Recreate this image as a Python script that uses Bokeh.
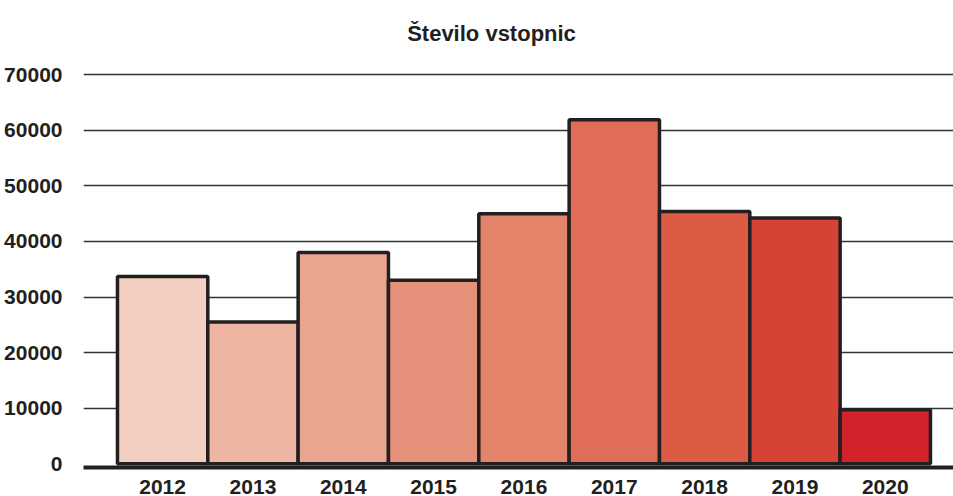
from bokeh.plotting import figure
from bokeh.models import Range1d, FixedTicker, ColumnDataSource, Label
from bokeh.embed import file_html
from bokeh.resources import INLINE

years = [2012, 2013, 2014, 2015, 2016, 2017, 2018, 2019, 2020]
visitors = [33700, 25500, 38000, 33000, 45000, 61900, 45400, 44200, 9700]
colors = ["#F2CFC0", "#EEB6A2", "#EAA58E", "#E5917A", "#E3836A",
          "#E06D57", "#DB5B45", "#D64236", "#D2232A"]
y_ticks = [0, 10000, 20000, 30000, 40000, 50000, 60000, 70000]
title_text = "Število vstopnic"

FONT = "Liberation Sans"
DARK = "#231F20"

# layout (pixels)
W, H = 953, 496
LEFT, RIGHT, TOP, BOTTOM = 83, 0, 2, 29
frame_w = W - LEFT - RIGHT
frame_h = H - TOP - BOTTOM
x_start = years[0] - 0.5 - 0.376
x_end = years[-1] + 0.5 + 0.255
# frame extends over the title area so the title label is not clipped
y_start, y_end = -680, 83000

src = ColumnDataSource(dict(x=years, top=visitors, color=colors))

p = figure(width=W, height=H, output_backend="svg", toolbar_location=None,
           x_range=Range1d(x_start, x_end), y_range=Range1d(y_start, y_end),
           min_border_left=LEFT, min_border_right=RIGHT,
           min_border_top=TOP, min_border_bottom=BOTTOM)
p.title.text = ""
p.outline_line_color = None
p.background_fill_color = "white"
p.border_fill_color = "white"

p.vbar(x="x", top="top", bottom=0, width=1.0, source=src, fill_color="color",
       line_color=DARK, line_width=3.5)

# title position: pixel targets converted to data units
px_per_x = frame_w / (x_end - x_start)
px_per_y = frame_h / (y_end - y_start)
title_x = x_start + (491 - LEFT) / px_per_x
title_y = y_end - (33 - TOP) / px_per_y
p.add_layout(Label(x=title_x, y=title_y, text=title_text, text_align="center",
                   text_baseline="alphabetic", text_font=FONT,
                   text_font_size="22px", text_font_style="bold",
                   text_color=DARK))

p.xgrid.grid_line_color = None
p.ygrid.ticker = FixedTicker(ticks=y_ticks[1:])
p.ygrid.grid_line_color = "#333333"
p.ygrid.grid_line_width = 1.5
p.ygrid.level = "underlay"

p.yaxis.ticker = FixedTicker(ticks=y_ticks)
p.yaxis.axis_line_color = None
p.yaxis.major_tick_line_color = None
p.yaxis.minor_tick_line_color = None
p.yaxis.major_label_standoff = 15
p.yaxis.major_label_text_font = FONT
p.yaxis.major_label_text_font_size = "21px"
p.yaxis.major_label_text_font_style = "bold"
p.yaxis.major_label_text_color = DARK

p.xaxis.ticker = FixedTicker(ticks=years)
p.xaxis.axis_line_color = DARK
p.xaxis.axis_line_width = 4
p.xaxis.major_tick_line_color = None
p.xaxis.minor_tick_line_color = None
p.xaxis.major_label_standoff = 6
p.xaxis.major_label_text_font = FONT
p.xaxis.major_label_text_font_size = "21px"
p.xaxis.major_label_text_font_style = "bold"
p.xaxis.major_label_text_color = DARK

open("out.html", "w").write(file_html(p, INLINE))
